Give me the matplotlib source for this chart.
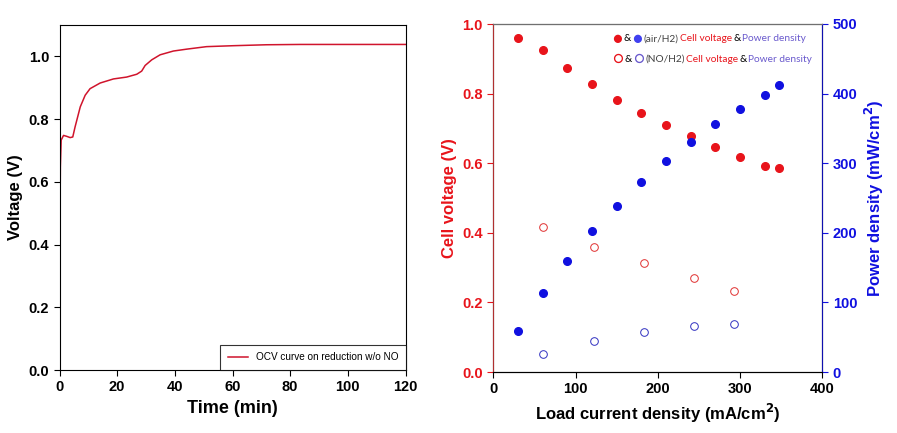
import matplotlib
matplotlib.use("Agg")
from matplotlib import pyplot as plt
from matplotlib.offsetbox import TextArea, HPacker, VPacker, AnchoredOffsetbox

plt.rcParams['font.family'] = ['Liberation Sans', 'DejaVu Sans']

# OCV curve (left panel)
tiempo = [0, 0.15, 0.3, 0.58, 1.4, 2.5, 3.7, 4.6, 5.4, 7.2, 8.9, 10.6, 14.1, 18.7,
          23.3, 26.8, 28.5, 29.7, 32, 34.9, 39.5, 44.1, 51, 60.3, 71.8, 83.4, 120]
voltaje = [0.08, 0.45, 0.648, 0.733, 0.748, 0.745, 0.741, 0.743, 0.775, 0.839, 0.876,
           0.897, 0.915, 0.928, 0.934, 0.943, 0.953, 0.971, 0.989, 1.005, 1.017, 1.023,
           1.031, 1.034, 1.037, 1.038, 1.038]

# air/H2 (filled markers)
corriente_aire = [30, 60, 90, 120, 150, 180, 210, 240, 270, 300, 330, 347]
voltaje_aire = [0.961, 0.926, 0.874, 0.827, 0.783, 0.744, 0.709, 0.678, 0.647, 0.619, 0.592, 0.585]
potencia_aire = [58.9, 113.9, 159.8, 202.9, 239.2, 273.2, 303.3, 331.1, 356.0, 378.5, 398.1, 412.9]

# NO/H2 (open markers)
corriente_no = [61, 122, 183, 244, 293]
voltaje_no = [0.418, 0.359, 0.313, 0.269, 0.233]
potencia_no = [25.8, 44.0, 57.4, 66.0, 68.9]

rojo = "#e8141b"
azul = "#1010e0"

fig = plt.figure(figsize=(8.97, 4.33), dpi=100)
ax1 = fig.add_axes([59.5 / 897, 1 - 370 / 433, 346 / 897, 345 / 433])
ax1.plot(tiempo, voltaje, color="#d0142c", lw=1.1, label="OCV curve on reduction w/o NO")
ax1.set_xlim(0, 120)
ax1.set_ylim(0, 1.1)
ax1.set_xticks(range(0, 121, 20))
ax1.set_yticks([0, 0.2, 0.4, 0.6, 0.8, 1.0])
ax1.set_yticklabels(["0.0", "0.2", "0.4", "0.6", "0.8", "1.0"])
ax1.tick_params(direction="out", labelsize=10.5, length=4)
for lab in ax1.get_xticklabels() + ax1.get_yticklabels():
    lab.set_fontweight("bold")
ax1.set_xlabel("Time (min)", fontsize=13, fontweight="bold")
ax1.set_ylabel("Voltage (V)", fontsize=12, fontweight="bold")
leg = ax1.legend(loc="lower right", fontsize=7.2, fancybox=False, borderaxespad=0.0,
                 borderpad=0.75, handlelength=2.0, handletextpad=0.8, edgecolor="black")
leg.get_frame().set_linewidth(0.8)

# right panel
ax2 = fig.add_axes([493.3 / 897, 1 - 372 / 433, 329 / 897, 348 / 433])
ax3 = ax2.twinx()
ax2.plot(corriente_aire, voltaje_aire, "o", color=rojo, ms=5.5, zorder=3)
ax2.plot(corriente_no, voltaje_no, "o", mfc="none", mec="#e03030", mew=0.7, ms=5.5)
ax3.plot(corriente_aire, potencia_aire, "o", color=azul, ms=5.5, zorder=3)
ax3.plot(corriente_no, potencia_no, "o", mfc="none", mec="#3030c0", mew=0.7, ms=5.5)
ax2.set_xlim(0, 400)
ax2.set_ylim(0, 1.0)
ax3.set_ylim(0, 500)
ax2.set_xticks(range(0, 401, 100))
ax2.set_yticks([0, 0.2, 0.4, 0.6, 0.8, 1.0])
ax2.set_yticklabels(["0.0", "0.2", "0.4", "0.6", "0.8", "1.0"])
ax3.set_yticks(range(0, 501, 100))
ax2.tick_params(axis="x", direction="out", labelsize=10.5, length=4)
ax2.tick_params(axis="y", direction="out", labelsize=10.5, length=4, colors=rojo)
ax3.tick_params(axis="y", direction="out", labelsize=10.5, length=4, colors=azul)
for lab in ax2.get_xticklabels() + ax2.get_yticklabels() + ax3.get_yticklabels():
    lab.set_fontweight("bold")
ax2.set_xlabel("Load current density (mA/cm$^\\mathbf{2}$)", fontsize=12, fontweight="bold")
ax2.set_ylabel("Cell voltage (V)", fontsize=12, fontweight="bold", color=rojo)
ax3.set_ylabel("Power density (mW/cm$^\\mathbf{2}$)", fontsize=12, fontweight="bold", color=azul)
ax3.spines["left"].set_color("#b03030")
ax3.spines["right"].set_color("#1010b0")
ax3.spines["top"].set_color("#707070")

def fila(partes):
    cajas = [TextArea(t, textprops=dict(color=c, fontsize=fs, family=["Lato", "DejaVu Sans"]))
             for t, c, fs in partes]
    return HPacker(children=cajas, pad=0, sep=1.0, align="center")

f1 = fila([("●", rojo, 12), ("&", "black", 7.3), ("●", "#4040f0", 12), ("(air/H2)", "#404040", 7.3),
           ("Cell voltage", rojo, 7.3), ("&", "black", 7.3), ("Power density", "#6a5acd", 7.3)])
f2 = fila([("○", rojo, 12), ("&", "black", 7.3), ("○", "#6a5acd", 12), ("(NO/H2)", "#404040", 7.3),
           ("Cell voltage", rojo, 7.3), ("&", "black", 7.3), ("Power density", "#6a5acd", 7.3)])
caja = VPacker(children=[f1, f2], pad=0, sep=3, align="left")
anc = AnchoredOffsetbox(loc="upper right", child=caja, frameon=False,
                        bbox_to_anchor=(0.99, 1.0), bbox_transform=ax2.transAxes, pad=0)
ax2.add_artist(anc)

plt.savefig("out.png", dpi=100)
plt.close()
